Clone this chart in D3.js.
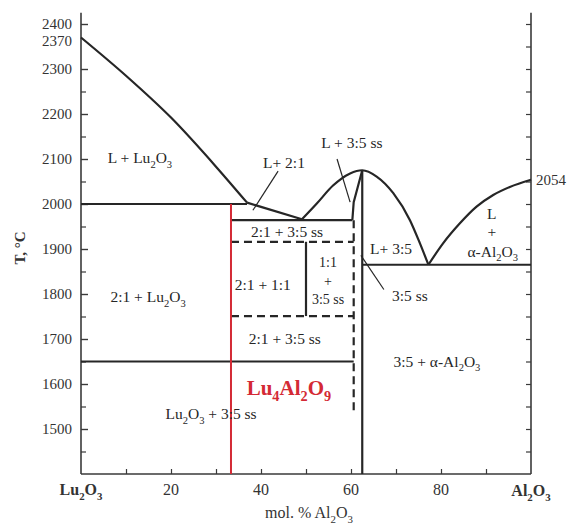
<!DOCTYPE html>
<html><head><meta charset="utf-8">
<script src="https://cdn.jsdelivr.net/npm/d3@7"></script>
<style>html,body{margin:0;padding:0;background:#fff;}svg{display:block;}</style>
</head><body>
<script>
// ---------- data (mol.% Al2O3, temperature °C) ----------
const liquidusLu2O3 = [[0,2370],[10,2285],[20,2192],[30,2083],[36.9,2003]];
const liquidus21 = [[36.9,2003],[49.1,1966]];
const dome35 = [[49.1,1966],[52.4,2001],[56,2041],[59.8,2068],[62.5,2075],[65.7,2061],[69.4,2024],[73.1,1964],[75.3,1913],[77.2,1865]];
const liquidusAl2O3 = [[77.2,1865],[80.5,1913],[84.2,1957],[87.9,1994],[91.6,2020],[95.3,2038],[100,2054]];
const solidus35 = [[60.3,1964],[60.6,2004],[62.5,2075]];
const solidLines = [
  [[0,2000],[36.9,2000]],
  [[33.33,1964],[60.3,1964]],
  [[62.5,1865],[100,1865]],
  [[0,1650],[60.6,1650]],
  [[62.5,1400],[62.5,2075]],
  [[50,1916],[50,1751]]
];
const dashedLines = [
  [[33.33,1916],[60.6,1916]],
  [[33.33,1751],[60.6,1751]],
  [[60.6,1964],[60.6,1540]]
];
const compoundLine = [[33.33,1400],[33.33,2000]];
const leaderLines = [
  [[43.8,2073],[38.2,1986]],
  [[56.9,2100],[59.8,2004]],
  [[67.3,1810],[62.2,1886]]
];
const yMajorTicks = [1500,1600,1700,1800,1900,2000,2100,2200,2300,2400];
const yMinorTicks = [1450,1550,1650,1750,1850,1950,2050,2150,2250];
const yRightTicks = d3.range(1450,2401,50);
const xTicks = [10,20,30,40,50,60,70,80,90];
const xTickLabels = [[20,"20"],[40,"40"],[60,"60"],[80,"80"]];
// region labels: [mol%, T, parts, size]  parts: [text, isSubscript]
const regionLabels = [
  [13.1,2102,[["L + Lu"],["2",1],["O"],["3",1]]],
  [45.1,2091,[["L+ 2:1"]]],
  [60.2,2135,[["L + 3:5 ss"]]],
  [45.8,1938,[["2:1 + 3:5 ss"]]],
  [40.4,1820,[["2:1 + 1:1"]]],
  [54.9,1871,[["1:1"]],14],
  [54.9,1829,[["+"]],14],
  [54.9,1789,[["3:5 ss"]],14],
  [14.9,1793,[["2:1 + Lu"],["2",1],["O"],["3",1]]],
  [45.3,1700,[["2:1 + 3:5 ss"]]],
  [68.9,1900,[["L+ 3:5"]]],
  [73.1,1796,[["3:5 ss"]]],
  [91.3,1979,[["L"]]],
  [91.3,1938,[["+"]]],
  [91.5,1894,[["α-Al"],["2",1],["O"],["3",1]]],
  [79.1,1649,[["3:5 + α-Al"],["2",1],["O"],["3",1]]],
  [28.9,1533,[["Lu"],["2",1],["O"],["3",1],[" + 3:5 ss"]]]
];
const compoundLabel = [46.2,1591,[["Lu"],["4",1],["Al"],["2",1],["O"],["9",1]]];

// ---------- drawing ----------
const W=571,H=527;
const svg=d3.select("body").append("svg").attr("width",W).attr("height",H)
  .style("font-family","'Liberation Serif','Times New Roman',serif");
svg.append("rect").attr("width",W).attr("height",H).attr("fill","#fff");
const x=d3.scaleLinear().domain([0,100]).range([81,531]);
const y=d3.scaleLinear().domain([1400,2400]).range([474,24]);
const line=d3.line().x(d=>x(d[0])).y(d=>y(d[1]));
const curve=d3.line().x(d=>x(d[0])).y(d=>y(d[1])).curve(d3.curveMonotoneX);
const ink="#262626";

// axes
const ax=svg.append("g").attr("stroke","#3a3a3a").attr("stroke-width",1.6);
ax.append("line").attr("x1",x(0)).attr("x2",x(0)).attr("y1",y(2425)).attr("y2",y(1400));
ax.append("line").attr("x1",x(100)).attr("x2",x(100)).attr("y1",y(2425)).attr("y2",y(1400));
ax.append("line").attr("x1",x(0)).attr("x2",x(100)).attr("y1",y(1400)).attr("y2",y(1400));

const yAxis=d3.axisLeft(y).tickValues(yMajorTicks).tickSize(-7).tickPadding(9).tickFormat(d3.format("d"));
const gy=svg.append("g").attr("transform",`translate(${x(0)},0)`).call(yAxis);
gy.select(".domain").remove();
gy.selectAll("line").attr("stroke","#3a3a3a").attr("stroke-width",1.4);
gy.selectAll("text").attr("font-size",15).attr("fill","#333").attr("font-family","'Liberation Serif',serif");
const gy2=svg.append("g").attr("transform",`translate(${x(0)},0)`).call(d3.axisLeft(y).tickValues(yMinorTicks).tickSize(-5).tickFormat(""));
gy2.select(".domain").remove();
gy2.selectAll("line").attr("stroke","#3a3a3a").attr("stroke-width",1.2);
const gyr=svg.append("g").attr("transform",`translate(${x(100)},0)`).call(d3.axisRight(y).tickValues(yRightTicks).tickSize(-5).tickFormat(""));
gyr.select(".domain").remove();
gyr.selectAll("line").attr("stroke","#3a3a3a").attr("stroke-width",1.2);
const gx=svg.append("g").attr("transform",`translate(0,${y(1400)})`).call(d3.axisBottom(x).tickValues(xTicks).tickSize(-5).tickFormat(""));
gx.select(".domain").remove();
gx.selectAll("line").attr("stroke","#3a3a3a").attr("stroke-width",1.2);

function rich(g,px,py,parts,fs,opts={}){
  const t=g.append("text").attr("x",px).attr("y",py+fs*0.33)
    .attr("text-anchor",opts.anchor||"middle").attr("font-size",fs)
    .attr("fill",opts.fill||ink).attr("font-weight",opts.weight||"normal");
  let shift=0;
  parts.forEach(([s,sub])=>{
    const target=sub?fs*0.28:0;
    const ts=t.append("tspan").text(s).attr("dy",target-shift);
    if(sub) ts.attr("font-size",fs*0.68);
    shift=target;
  });
  return t;
}

// tick labels
xTickLabels.forEach(([p,s])=>rich(svg,x(p),490,[[s]],16,{fill:"#333"}));
rich(svg,x(0),490,[["Lu"],["2",1],["O"],["3",1]],16,{weight:"bold",fill:"#333"});
rich(svg,x(100),491,[["Al"],["2",1],["O"],["3",1]],16,{weight:"bold",fill:"#333"});
rich(svg,x(0)-9,41,[["2370"]],15,{anchor:"end",fill:"#333"});
rich(svg,x(100)+5,y(2054),[["2054"]],15,{anchor:"start",fill:"#333"});
rich(svg,309,513,[["mol. % Al"],["2",1],["O"],["3",1]],16,{fill:"#333"});
svg.append("text").attr("transform","translate(25,248) rotate(-90)").attr("text-anchor","middle")
  .attr("font-size",15).attr("font-weight","bold").attr("fill","#333").text("T, °C");

// phase boundaries
const pg=svg.append("g").attr("fill","none").attr("stroke",ink).attr("stroke-width",2.2);
pg.append("path").attr("d",curve(liquidusLu2O3));
pg.append("path").attr("d",line(liquidus21));
pg.append("path").attr("d",curve(dome35));
pg.append("path").attr("d",curve(liquidusAl2O3));
pg.append("path").attr("d",line(solidus35));
solidLines.forEach(l=>pg.append("path").attr("d",line(l)));
dashedLines.forEach(l=>pg.append("path").attr("d",line(l)).attr("stroke-dasharray","8,5"));
svg.append("path").attr("d",line(compoundLine)).attr("fill","none").attr("stroke","#d42a35").attr("stroke-width",2);
leaderLines.forEach(l=>svg.append("path").attr("d",line(l)).attr("fill","none").attr("stroke",ink).attr("stroke-width",1.2));

// region labels
regionLabels.forEach(([p,T,parts,fs])=>rich(svg,x(p),y(T),parts,fs||15.5));
rich(svg,x(compoundLabel[0]),y(compoundLabel[1]),compoundLabel[2],21,{weight:"bold",fill:"#d42a35"});
</script>
</body></html>
